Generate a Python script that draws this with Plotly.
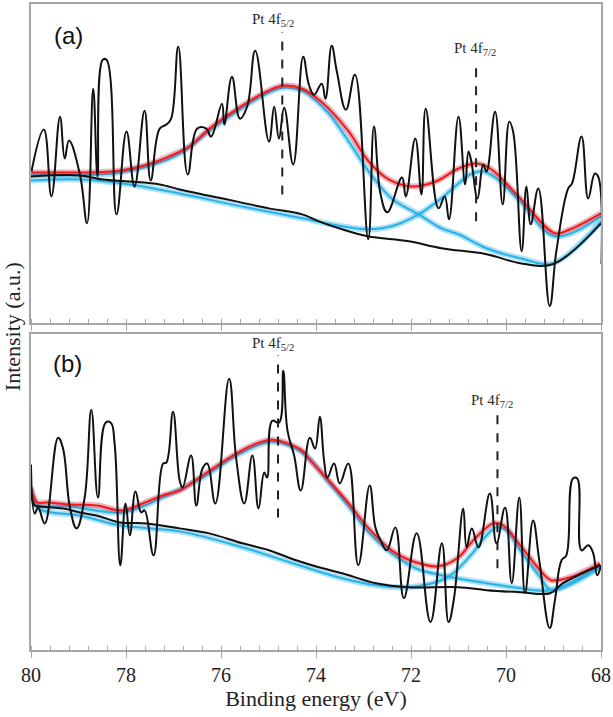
import plotly.graph_objects as go

# ---------------- Panel (a) ----------------
a_data_x = [79.99, 79.73, 79.57, 79.39, 79.29, 79.20, 78.97, 78.82, 78.69, 78.60, 78.49, 78.41, 78.20, 77.99,
            77.82, 77.61, 77.48, 77.29, 77.15, 77.05, 76.90, 76.70, 76.50, 76.31, 76.21, 75.98, 75.93, 75.77,
            75.60, 75.45, 75.28, 74.99, 74.88, 74.78, 74.67, 74.48, 74.27, 74.15, 74.04, 73.88, 73.80, 73.67,
            73.56, 73.37, 73.18, 72.90, 72.78, 72.64, 72.50, 72.19, 72.11, 71.91, 71.78, 71.69, 71.42, 71.29,
            71.20, 71.00, 70.86, 70.79, 70.73, 70.60, 70.48, 70.41, 70.23, 70.07, 69.93, 69.85, 69.67, 69.57,
            69.48, 69.32, 69.08, 68.94, 68.69, 68.61, 68.41, 68.27, 68.13, 68.06, 67.99]
a_data_y = [152, 194, 127, 207, 165, 183, 149, 100, 235, 147, 264, 264, 109, 192,
            137, 213, 143, 195, 199, 205, 277, 149, 195, 195, 187, 220, 199, 247,
            205, 217, 273, 182, 217, 185, 216, 159, 267, 239, 229, 240, 225, 278,
            252, 214, 249, 84, 197, 129, 111, 146, 127, 185, 129, 215, 115, 127,
            104, 207, 139, 172, 162, 125, 159, 152, 212, 119, 202, 192, 72, 137,
            99, 135, 17, 72, 135, 140, 187, 125, 150, 147, 59]

a_bg_x = [80.00, 78.97, 78.49, 77.92, 77.29, 76.87, 76.39, 75.68, 74.99, 74.29, 73.94, 73.45, 72.91, 72.05,
          71.36, 70.41, 69.70, 69.01, 68.00]
a_bg_y = [147, 148, 144, 142, 139, 134, 129, 122, 115, 109, 102, 94, 87, 82, 75, 69, 60, 59, 100]

a_env_x = [79.99, 78.97, 78.28, 77.78, 77.36, 76.87, 76.66, 76.24, 75.68, 75.13, 74.71, 74.29, 73.94, 73.73,
           73.31, 72.89, 72.47, 71.99, 71.48, 71.00, 70.62, 70.33, 69.70, 68.97, 68.65, 68.00]
a_env_y = [151, 151, 152, 156, 162, 172, 177, 195, 214, 230, 238, 235, 224, 215,
           192, 162, 144, 137, 142, 155, 160, 155, 125, 90, 94, 110]

a_p52_x = [80.00, 78.28, 77.36, 76.87, 76.24, 75.68, 75.13, 74.71, 74.29, 74.15, 73.73, 73.31, 72.89, 72.41,
           71.84, 71.36, 71.00, 70.41, 69.70, 69.01, 68.00]
a_p52_y = [149, 150, 160, 170, 193, 212, 228, 236, 233, 229, 210, 182, 152, 125,
           109, 95, 89, 75, 65, 60, 102]

a_p72_x = [80.00, 78.97, 77.92, 76.87, 75.68, 74.29, 73.45, 72.91, 72.41, 71.84, 71.36, 71.00, 70.75, 70.48,
           70.20, 69.70, 68.97, 68.00]
a_p72_y = [143, 144, 139, 130, 118, 105, 97, 94, 97, 109, 125, 140, 149, 152,
           145, 122, 87, 107]

# ---------------- Panel (b) ----------------
b_data_x = [80.00, 79.92, 79.85, 79.71, 79.43, 79.33, 79.18, 79.04, 78.87, 78.73, 78.59, 78.43, 78.32, 78.24,
            78.12, 78.01, 77.92, 77.80, 77.68, 77.61, 77.42, 77.22, 77.15, 77.01, 76.87, 76.81, 76.63, 76.52,
            76.39, 76.29, 76.12, 75.83, 75.68, 75.51, 75.34, 75.21, 75.09, 75.03, 74.92, 74.78, 74.69, 74.60,
            74.46, 74.32, 74.13, 74.02, 73.92, 73.83, 73.76, 73.62, 73.50, 73.32, 73.11, 72.87, 72.75, 72.64,
            72.51, 72.33, 72.15, 71.88, 71.59, 71.35, 71.21, 71.10, 70.90, 70.83, 70.72, 70.58, 70.34, 70.20,
            70.02, 69.88, 69.72, 69.60, 69.43, 69.30, 69.08, 68.97, 68.83, 68.73, 68.59, 68.50, 68.41, 68.27,
            68.17, 68.08, 68.00]
b_data_y = [186, 137, 143, 127, 213, 203, 143, 122, 153, 241, 153, 228, 228, 207,
            85, 147, 115, 159, 138, 140, 95, 187, 188, 239, 170, 163, 195, 145,
            182, 187, 147, 272, 192, 147, 195, 142, 178, 173, 230, 228, 280, 220,
            195, 160, 213, 202, 234, 190, 173, 187, 167, 187, 85, 165, 123, 110,
            100, 123, 52, 117, 28, 107, 28, 50, 142, 103, 122, 103, 157, 107,
            143, 67, 153, 57, 130, 90, 22, 50, 90, 95, 172, 172, 100, 105,
            98, 75, 85]

b_bg_x = [80.00, 79.92, 79.81, 79.33, 78.97, 78.62, 78.13, 77.57, 76.87, 76.25, 75.55, 74.99, 74.42, 73.94,
          73.45, 72.74, 72.05, 71.00, 70.41, 69.70, 69.07, 68.80, 68.02]
b_bg_y = [158, 145, 144, 142, 138, 135, 128, 127, 122, 117, 107, 100, 90, 83,
          77, 67, 63, 63, 60, 58, 57, 67, 85]

b_env_x = [80.00, 79.87, 79.66, 79.18, 78.62, 78.07, 77.65, 77.23, 76.87, 76.39, 75.68, 75.26, 74.92, 74.71,
           74.29, 74.15, 73.73, 73.31, 72.89, 72.41, 71.90, 71.42, 71.00, 70.69, 70.27, 70.06, 69.70, 69.28,
           69.05, 68.65, 68.02]
b_env_y = [163, 148, 148, 146, 145, 140, 147, 155, 160, 175, 197, 207, 211, 209,
           200, 192, 170, 147, 122, 100, 88, 84, 93, 110, 127, 125, 105, 80,
           70, 73, 87]

b_p52_x = [80.00, 79.87, 79.18, 78.07, 77.23, 76.39, 75.68, 74.92, 74.29, 73.73, 73.31, 72.89, 72.41, 71.90,
           71.36, 70.41, 69.70, 69.07, 68.02]
b_p52_y = [161, 146, 144, 138, 153, 173, 195, 209, 198, 168, 144, 118, 97, 82,
           75, 67, 62, 60, 84]

b_p72_x = [80.00, 79.81, 78.97, 78.13, 76.87, 75.55, 74.42, 73.45, 72.74, 72.05, 71.36, 71.11, 70.69, 70.41,
           70.20, 69.99, 69.70, 69.28, 69.05, 68.02]
b_p72_y = [155, 141, 135, 125, 119, 103, 86, 72, 65, 63, 70, 77, 98, 115,
           123, 120, 100, 73, 60, 83]

# peak markers: label, label x, label y, line x, line y0, line y1
a_peak_labels = ["Pt 4f<sub>5/2</sub>", "Pt 4f<sub>7/2</sub>"]
a_label_x = [74.90, 70.66]
a_label_y = [304, 275]
a_line_x = [74.71, 70.63]
a_line_top = [292, 264]
a_line_bot = [129, 102]

b_peak_labels = ["Pt 4f<sub>5/2</sub>", "Pt 4f<sub>7/2</sub>"]
b_label_x = [74.90, 70.29]
b_label_y = [307, 250]
b_line_x = [74.80, 70.18]
b_line_top = [296, 242]
b_line_bot = [133, 82]

x_ticks = [80, 78, 76, 74, 72, 70, 68]

RED = "#ff1414"
RED_BAND = "rgba(190,60,90,0.38)"
BLUE = "#27b2e8"
BLUE_BAND = "rgba(40,175,230,0.38)"
BLACK = "#111111"

fig = go.Figure()


def add_line(x, y, color, width, xa, ya, smooth=1.0):
    fig.add_trace(go.Scatter(x=x, y=y, mode="lines", xaxis=xa, yaxis=ya, showlegend=False,
                             hoverinfo="skip",
                             line=dict(color=color, width=width, shape="spline", smoothing=smooth)))


for (xa, ya, p72, p52, env, bg, dat) in [
    ("x", "y", (a_p72_x, a_p72_y), (a_p52_x, a_p52_y), (a_env_x, a_env_y), (a_bg_x, a_bg_y), (a_data_x, a_data_y)),
    ("x2", "y2", (b_p72_x, b_p72_y), (b_p52_x, b_p52_y), (b_env_x, b_env_y), (b_bg_x, b_bg_y), (b_data_x, b_data_y)),
]:
    add_line(*p72, BLUE_BAND, 6, xa, ya)
    add_line(*p52, BLUE_BAND, 6, xa, ya)
    add_line(*p72, BLUE, 2, xa, ya)
    add_line(*p52, BLUE, 2, xa, ya)
    add_line(*env, RED_BAND, 6, xa, ya)
    add_line(*env, RED, 2, xa, ya)
    add_line(*bg, BLACK, 2, xa, ya)
    add_line(*dat, BLACK, 2, xa, ya, smooth=1.2)

FRAME = "#a6a6a6"
SERIF = "Liberation Serif"

common_x = dict(range=[80, 68], showline=True, linecolor=FRAME, linewidth=1.5, mirror=True,
                tickmode="array", tickvals=x_ticks, ticks="outside", ticklen=6, tickwidth=1.2,
                tickcolor=FRAME, showgrid=False, zeroline=False, ticklabeloverflow="allow",
                minor=dict(dtick=0.4, ticks="inside", ticklen=4, tickwidth=1, tickcolor=FRAME, showgrid=False))
common_y = dict(showline=True, linecolor=FRAME, linewidth=1.5, mirror=True, showticklabels=False,
                ticks="", showgrid=False, zeroline=False)

fig.update_layout(
    width=613, height=717,
    margin=dict(l=31, r=9, t=2, b=67),
    paper_bgcolor="white", plot_bgcolor="white",
    xaxis=dict(common_x, anchor="y", domain=[0, 1], showticklabels=False),
    yaxis=dict(common_y, anchor="x", domain=[0.5062, 1.0], range=[0, 320]),
    xaxis2=dict(common_x, anchor="y2", domain=[0, 1], showticklabels=True,
                tickfont=dict(family=SERIF, size=20, color="#222"),
                title=dict(text="Binding energy (eV)", font=dict(family=SERIF, size=22, color="#222"),
                           standoff=6)),
    yaxis2=dict(common_y, anchor="x2", domain=[0, 0.4892], range=[0, 317]),
)

ann = []
for labels, lx, ly, xr, yr in [(a_peak_labels, a_label_x, a_label_y, "x", "y"),
                              (b_peak_labels, b_label_x, b_label_y, "x2", "y2")]:
    for t, x, y in zip(labels, lx, ly):
        ann.append(dict(text=t, x=x, y=y, xref=xr, yref=yr, showarrow=False,
                        font=dict(family=SERIF, size=15, color="#2a2a2a"), xanchor="center", yanchor="middle"))

ann.append(dict(text="(a)", x=0.0663, y=0.9506, xref="paper", yref="paper", showarrow=False,
                font=dict(family="Liberation Sans", size=24, color="#111"), xanchor="center", yanchor="middle"))
ann.append(dict(text="(b)", x=0.0645, y=0.4429, xref="paper", yref="paper", showarrow=False,
                font=dict(family="Liberation Sans", size=24, color="#111"), xanchor="center", yanchor="middle"))
ann.append(dict(text="Intensity (a.u.)", x=-0.033, y=0.50, xref="paper", yref="paper", showarrow=False,
                textangle=-90, font=dict(family=SERIF, size=22, color="#222"), xanchor="center", yanchor="middle"))
fig.update_layout(annotations=ann)

shapes = []
for lx, y0, y1, xr, yr in [(a_line_x, a_line_bot, a_line_top, "x", "y"),
                           (b_line_x, b_line_bot, b_line_top, "x2", "y2")]:
    for x, a0, a1 in zip(lx, y0, y1):
        shapes.append(dict(type="line", x0=x, x1=x, y0=a0, y1=a1, xref=xr, yref=yr,
                           line=dict(color="#222", width=2, dash="dash")))
fig.update_layout(shapes=shapes)

fig.write_html("out.html")
